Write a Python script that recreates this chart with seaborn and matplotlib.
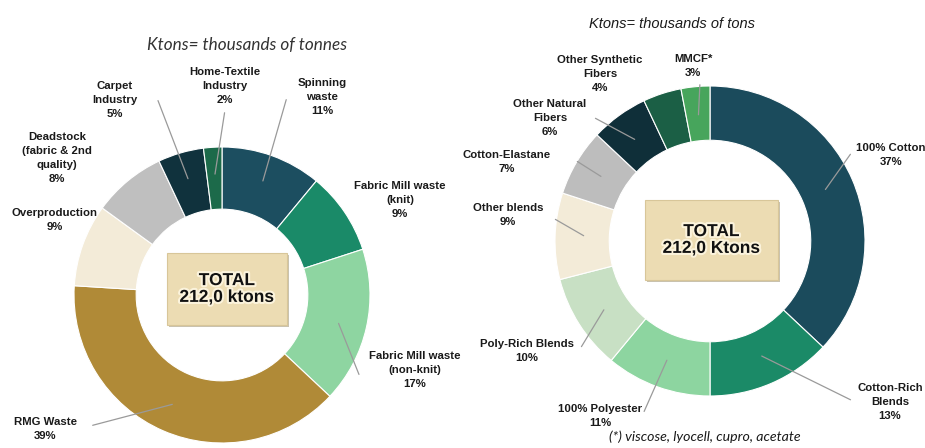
import numpy as np
import matplotlib
matplotlib.use("Agg")
import matplotlib.pyplot as plt
import matplotlib.patheffects as pe
from matplotlib.patches import Rectangle
import seaborn as sns

# ---------------- data ----------------
left_labels = ["Spinning\nwaste", "Fabric Mill waste\n(knit)", "Fabric Mill waste\n(non-knit)",
               "RMG Waste", "Overproduction", "Deadstock\n(fabric & 2nd\nquality)",
               "Carpet\nIndustry", "Home-Textile\nIndustry"]
left_pct = [11, 9, 17, 39, 9, 8, 5, 2]
left_colors = ["#1c4e60", "#1a8a68", "#8ed5a1", "#b08a37", "#f3ebd8", "#bfbfbf", "#10323d", "#1c6a4a"]

right_labels = ["100% Cotton", "Cotton-Rich\nBlends", "100% Polyester", "Poly-Rich Blends",
                "Other blends", "Cotton-Elastane", "Other Natural\nFibers",
                "Other Synthetic\nFibers", "MMCF*"]
right_pct = [37, 13, 11, 10, 9, 7, 6, 4, 3]
right_colors = ["#1b4b5c", "#1b8a67", "#8dd5a0", "#c8e0c4", "#f3ebd8", "#bdbdbd", "#0f2f39", "#1b5f45", "#47a55c"]

total_left = "TOTAL\n212,0 ktons"
total_right = "TOTAL\n212,0 Ktons"

# ---------------- layout (pixel coords, y from top) ----------------
W, H = 925, 448
L_CENTER, L_R, L_W = (222, 295), 148, 0.42
R_CENTER, R_R, R_W = (710, 241), 155, 0.35

left_text_pos = [(322, 97), (400, 200), (415, 370), (45, 429), (55, 220),
                 (57, 158), (115, 100), (225, 86)]
left_line_start = [(287, 97), None, (360, 377), (90, 426), None, None, (157, 98), (225, 110)]

right_text_pos = [(891, 155), (890, 402), (600, 416), (527, 351), (508, 215),
                  (507, 162), (550, 118), (600, 74), (693, 66)]
right_line_start = [(852, 152), (853, 401), (643, 414), (580, 349), (553, 218),
                    (575, 160), (593, 117), None, (700, 82)]

sns.set_theme(style="white")
plt.rcParams["font.family"] = ["Liberation Sans", "DejaVu Sans"]

fig = plt.figure(figsize=(W / 100, H / 100), dpi=100)
ax = fig.add_axes([0, 0, 1, 1])


def donut(center, radius, width, pct, colors, labels, text_pos, line_start):
    cx, cy = center[0], H - center[1]
    wedges, _ = ax.pie(pct, colors=colors, startangle=90, counterclock=False,
                       radius=radius, center=(cx, cy),
                       wedgeprops=dict(width=radius * width, edgecolor="white", linewidth=0.8))
    for w, lab, p, tp, ls in zip(wedges, labels, pct, text_pos, line_start):
        ang = np.deg2rad((w.theta1 + w.theta2) / 2)
        if ls is not None:
            r = radius * 0.8
            ax.annotate("", xy=(cx + r * np.cos(ang), cy + r * np.sin(ang)),
                        xytext=(ls[0], H - ls[1]),
                        arrowprops=dict(arrowstyle="-", color="#9a9a9a", lw=0.9))
        ax.text(tp[0], H - tp[1], f"{lab}\n{p}%", ha="center", va="center",
                fontsize=8.2, fontweight="bold", color="#1a1a1a", linespacing=1.5)


donut(L_CENTER, L_R, L_W, left_pct, left_colors, left_labels, left_text_pos, left_line_start)
donut(R_CENTER, R_R, R_W, right_pct, right_colors, right_labels, right_text_pos, right_line_start)

ax.set_xlim(0, W)
ax.set_ylim(0, H)
ax.set_aspect("equal")
ax.axis("off")

# center boxes
for (x0, y0, x1, y1), txt in [((167, 253, 287, 325), total_left), ((645, 200, 778, 280), total_right)]:
    ax.add_patch(Rectangle((x0 + 2, H - y1 - 2), x1 - x0, y1 - y0, facecolor="#c9c2b0",
                           edgecolor="none", zorder=3))
    ax.add_patch(Rectangle((x0, H - y1), x1 - x0, y1 - y0, facecolor="#ecdcb3",
                           edgecolor="#d8c699", linewidth=0.8, zorder=4))
    ax.text((x0 + x1) / 2, H - (y0 + y1) / 2, txt, ha="center", va="center",
            fontsize=12.5, fontweight="bold", color="#111111", linespacing=1.15, zorder=5,
            path_effects=[pe.withStroke(linewidth=3, foreground="#fbf3dc")])

# titles and footnote
ax.text(247, H - 45, "Ktons= thousands of tonnes", ha="center", va="center",
        fontsize=12.3, style="italic", color="#333333", family=["Lato", "DejaVu Sans"])
ax.text(672, H - 24, "Ktons= thousands of tons", ha="center", va="center",
        fontsize=10.5, style="italic", color="#1a1a1a")
ax.text(705, H - 437, "(*) viscose, lyocell, cupro, acetate", ha="center", va="center",
        fontsize=10.2, style="italic", color="#1a1a1a", family=["Lato", "DejaVu Sans"])

fig.savefig("out.png", dpi=100)
